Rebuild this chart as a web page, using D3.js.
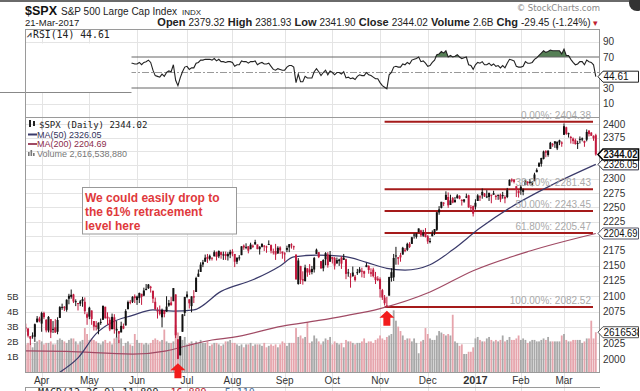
<!DOCTYPE html>
<html><head><meta charset="utf-8">
<script src="https://cdn.jsdelivr.net/npm/d3@7"></script>
<style>
body{margin:0;background:#fff}
svg{display:block}
text{font-family:"Liberation Sans",Arial,sans-serif}
.mono{font-family:"DejaVu Sans Mono",monospace}
</style>
</head><body>
<svg id="c" width="640" height="391"></svg>
<script>
// ---------------- DATA ----------------
const startDate = "2016-03-21", endDate = "2017-03-21";
const holidays = ["2016-03-25","2016-05-30","2016-07-04","2016-09-05","2016-11-24","2016-12-26","2017-01-02","2017-01-16","2017-02-20"];
const monthLabels = ["Apr","May","Jun","Jul","Aug","Sep","Oct","Nov","Dec","2017","Feb","Mar"];

const opens = [
2049,2049,2048,2032,2037,2035,2058,2064,
2056,2073,2062,2045,2063,2046,2050,2043,2065,2082,2083,2078,2096,2099,2103,2092,2089,2088,2092,2091,2071,
2067,2077,2060,2053,2047,2057,2062,2083,2067,2062,2047,2066,2045,2044,2042,2052,2053,2079,2091,2091,2100,
2094,2097,2104,2101,2110,2113,2115,2109,2091,2077,2077,2066,2077,2075,2085,2090,2092,2103,2031,2006,2043,2073,
2099,2095,2084,2100,2107,2132,2140,2156,2157,2165,2162,2163,2166,2173,2166,2173,2169,2170,2166,2169,
2174,2170,2157,2164,2168,2184,2182,2183,2178,2182,2186,2186,2178,2182,2184,2182,2186,2185,2174,2175,2171,2181,2174,
2171,2177,2181,2186,2183,2169,2120,2150,2128,2125,2146,2144,2145,2144,2170,2173,2158,2146,2161,2169,2157,
2165,2163,2154,2158,2164,2160,2161,2138,2131,2139,2132,2138,2140,2142,2137,2148,2150,2137,2144,2132,2129,
2128,2110,2098,2083,2101,2130,2131,2167,2162,2168,2169,2177,2177,2187,2187,2202,2199,2207,2210,2201,2205,
2200,2191,2200,2207,2211,2241,2249,2258,2263,2268,2254,2266,2259,2266,2270,2263,2260,2267,2271,2250,2252,
2251,2261,2268,2271,2274,2269,2268,2272,2272,2270,2270,2272,2270,2268,2268,2288,2299,2299,2287,2275,
2286,2277,2289,2295,2295,2290,2296,2312,2322,2327,2336,2350,2343,2354,2361,2368,2355,2366,2366,
2380,2394,2381,2376,2373,2370,2364,2372,2371,2369,2371,2388,2384,2378,2379.32];
const highs = [
2053,2056,2049,2036,2042,2056,2068,2067,
2075,2075,2063,2068,2063,2060,2063,2066,2084,2088,2084,2095,2104,2111,2104,2095,2089,2094,2099,2098,2074,
2083,2077,2060,2060,2058,2064,2085,2083,2074,2066,2072,2071,2060,2044,2059,2056,2079,2093,2094,2100,2103,
2101,2106,2104,2114,2120,2120,2117,2109,2098,2082,2085,2080,2077,2100,2094,2099,2113,2103,2031,2036,2071,2099,
2108,2095,2100,2110,2132,2144,2156,2160,2169,2170,2169,2164,2176,2174,2176,2174,2174,2174,2173,2177,
2178,2170,2164,2168,2183,2186,2188,2183,2189,2186,2194,2186,2183,2188,2185,2184,2193,2186,2179,2187,2183,2183,2174,
2173,2184,2186,2188,2184,2169,2163,2150,2141,2152,2146,2153,2150,2165,2179,2173,2158,2161,2173,2173,2175,
2165,2165,2164,2162,2166,2170,2162,2145,2138,2149,2135,2145,2148,2147,2142,2155,2151,2146,2147,2140,2133,
2131,2112,2102,2099,2132,2146,2170,2182,2165,2172,2182,2180,2189,2190,2199,2205,2205,2213,2211,2211,2214,
2202,2197,2210,2212,2242,2252,2259,2259,2278,2276,2272,2268,2268,2273,2271,2264,2264,2274,2272,2254,2253,
2264,2273,2271,2283,2275,2280,2275,2272,2279,2272,2272,2274,2277,2271,2284,2299,2301,2299,2287,2280,
2289,2283,2299,2296,2300,2296,2311,2319,2330,2338,2351,2352,2351,2367,2365,2368,2367,2371,2368,
2401,2395,2384,2378,2375,2373,2369,2377,2375,2369,2390,2388,2385,2379,2381.93];
const lows = [
2044,2043,2034,2022,2032,2027,2058,2058,
2043,2063,2042,2042,2033,2041,2041,2039,2065,2078,2076,2075,2087,2096,2089,2084,2077,2084,2083,2071,2054,
2063,2054,2045,2045,2039,2054,2062,2064,2054,2044,2047,2040,2034,2025,2042,2047,2053,2079,2087,2089,2089,
2086,2089,2086,2100,2110,2112,2106,2089,2078,2064,2069,2050,2066,2075,2083,2085,2092,2033,2000,2006,2043,2068,
2097,2080,2074,2089,2107,2132,2140,2148,2157,2155,2159,2159,2166,2159,2163,2162,2160,2160,2159,2163,
2166,2148,2153,2159,2168,2177,2178,2171,2178,2180,2186,2178,2169,2181,2175,2172,2186,2171,2169,2160,2170,2170,2162,
2157,2173,2173,2179,2177,2127,2119,2120,2119,2124,2132,2135,2136,2139,2170,2163,2145,2141,2151,2147,2157,
2154,2144,2154,2150,2145,2160,2128,2132,2114,2132,2124,2135,2138,2131,2130,2148,2137,2132,2131,2120,2125,
2098,2094,2085,2083,2101,2124,2125,2152,2152,2157,2169,2173,2175,2180,2187,2196,2196,2207,2199,2199,2198,
2187,2188,2200,2202,2209,2237,2248,2252,2263,2249,2254,2257,2258,2265,2264,2253,2258,2266,2249,2244,2234,
2246,2261,2261,2265,2268,2266,2261,2257,2272,2263,2263,2259,2265,2257,2266,2288,2294,2292,2268,2267,
2272,2271,2289,2288,2290,2287,2296,2312,2322,2322,2335,2339,2340,2354,2358,2356,2352,2361,2358,
2380,2380,2375,2364,2363,2362,2354,2364,2368,2358,2368,2377,2378,2369,2341.90];
const closes = [
2051.6,2049.8,2036.71,2035.94,2037.05,2055.01,2063.95,2059.74,
2072.78,2066.13,2045.17,2066.66,2041.91,2047.6,2041.99,2061.72,2082.42,2082.78,2080.73,2094.34,2100.8,2102.4,2091.48,2091.58,2087.79,2091.7,2095.15,2075.81,2065.3,
2081.43,2063.37,2051.12,2050.63,2057.14,2058.69,2084.39,2064.46,2064.11,2046.61,2066.66,2047.21,2047.63,2040.04,2052.32,2048.04,2076.06,2090.54,2090.1,2099.06,2096.95,
2099.33,2105.26,2099.13,2109.41,2112.13,2119.12,2115.48,2096.07,2079.06,2075.32,2071.5,2077.99,2071.22,2083.25,2088.9,2085.45,2113.32,2037.41,2000.54,2036.09,2070.77,2098.86,
2102.95,2088.55,2099.73,2097.9,2129.9,2137.16,2152.14,2152.43,2163.75,2161.74,2166.89,2163.78,2173.02,2165.17,2175.03,2168.48,2169.18,2166.58,2170.06,2173.6,
2170.84,2157.03,2163.79,2164.25,2182.87,2180.89,2181.74,2175.49,2185.79,2184.05,2190.15,2178.15,2182.22,2187.02,2183.87,2182.64,2186.9,2175.44,2172.47,2169.04,2180.38,2176.12,2170.95,
2170.86,2179.98,2186.48,2186.16,2181.3,2127.81,2159.04,2127.02,2125.77,2147.26,2139.16,2139.12,2139.76,2163.12,2177.18,2164.69,2146.1,2159.93,2171.37,2151.13,2168.27,
2161.2,2150.49,2159.73,2160.77,2153.74,2163.66,2136.73,2139.18,2132.55,2132.98,2126.5,2139.6,2144.29,2141.34,2141.16,2151.33,2143.16,2139.43,2133.04,2126.41,2126.15,
2111.72,2097.94,2088.66,2085.18,2131.52,2139.56,2163.26,2167.48,2164.45,2164.2,2180.39,2176.94,2187.12,2181.9,2198.18,2202.94,2204.72,2213.35,2201.72,2204.66,2198.81,
2191.08,2191.95,2204.71,2212.23,2241.35,2246.19,2259.53,2256.96,2271.72,2253.28,2262.03,2258.07,2262.53,2270.76,2265.18,2260.96,2263.79,2268.88,2249.92,2249.26,2238.83,
2257.83,2270.75,2269,2276.98,2268.9,2268.9,2275.32,2270.44,2274.64,2267.89,2271.89,2263.69,2271.31,2265.2,2280.07,2298.37,2296.68,2294.69,2280.9,2278.87,
2279.55,2280.85,2297.42,2292.56,2293.08,2294.67,2307.87,2316.1,2328.25,2337.58,2349.25,2347.22,2351.16,2365.38,2362.82,2363.81,2367.34,2369.75,2363.64,
2395.96,2381.92,2383.12,2375.31,2368.39,2362.98,2364.87,2372.6,2373.47,2365.45,2385.26,2381.38,2378.25,2373.47,2344.02];
// volume, billions of shares
const volumes = [
1.9,1.8,1.9,1.8,1.6,1.9,2.0,2.1,
2.0,1.8,1.9,1.9,2.0,1.8,1.8,2.1,2.2,2.1,2.0,1.9,2.1,2.2,2.2,2.0,1.8,2.0,2.1,2.9,2.5,
2.1,2.2,2.1,2.0,1.9,1.8,2.0,2.1,1.9,2.0,1.8,2.2,2.3,2.1,2.2,1.7,1.9,2.0,1.8,1.7,2.5,
2.1,1.9,1.9,1.8,1.9,1.8,1.9,2.1,2.2,2.1,2.0,2.1,2.8,2.0,1.9,1.9,2.0,3.1,2.6,2.3,2.1,2.3,
1.8,1.9,2.0,1.8,2.0,1.9,2.1,1.9,1.9,2.0,1.7,1.8,1.9,1.9,1.8,1.7,1.8,2.0,2.0,2.1,
1.9,1.9,1.8,1.7,1.8,1.6,1.8,1.8,1.9,1.7,1.8,1.8,1.8,1.7,1.9,1.6,1.7,1.8,1.7,1.8,1.6,1.8,2.0,
1.9,1.7,1.9,1.9,1.9,2.9,2.3,2.4,2.2,2.3,3.3,1.9,2.0,2.4,2.2,2.0,1.8,2.0,2.2,2.1,2.3,
1.8,2.0,1.9,1.8,1.9,1.6,2.1,2.0,2.0,1.9,1.8,1.9,1.9,2.0,2.2,1.9,2.0,2.0,1.9,2.1,2.2,
2.4,2.2,2.1,2.3,2.4,2.5,4.1,3.4,3.0,2.7,2.4,2.1,2.2,2.2,2.0,2.2,1.9,1.2,2.0,2.1,2.9,
2.5,2.2,2.1,2.1,2.4,2.7,2.6,2.5,2.4,2.5,2.4,3.8,2.0,1.9,1.7,1.8,1.15,1.15,1.3,1.3,1.6,
2.2,2.3,2.1,2.0,2.0,2.2,2.3,2.1,2.0,2.1,2.0,2.1,2.4,2.0,2.1,2.3,2.1,2.1,2.2,2.4,
2.1,2.2,2.1,1.9,2.0,2.1,2.1,2.0,2.0,2.1,2.2,2.1,2.3,2.0,2.0,2.0,2.0,2.0,2.4,
2.5,2.1,2.0,2.0,2.1,2.1,2.1,2.1,1.9,2.0,2.2,2.2,3.4,2.2,2.62];
const lastVolumeText = "2,616,538,880";
const rsi = [
62,61,57,57,57,62,65,63,
67,63,55,61,53,55,53,59,65,65,64,68,70,70,63,63,61,62,63,55,51,
57,50,46,46,49,50,60,52,52,45,53,46,46,44,49,48,57,62,62,62,61,
61,63,60,63,64,66,63,53,46,45,44,48,45,50,52,51,60,40,33,43,51,57,
58,54,56,56,62,63,66,66,67,67,67,66,68,65,67,64,64,63,64,64,
63,58,60,60,65,64,64,62,64,64,65,60,62,63,61,61,62,58,54,53,55,54,53,
53,57,59,59,57,37,48,38,38,45,43,43,43,51,55,51,46,50,53,47,52,
50,47,50,50,48,51,43,44,42,43,41,45,47,46,46,50,47,46,44,42,42,
37,33,31,29,47,50,57,58,57,57,61,60,63,61,66,67,68,70,64,65,62,
58,59,63,66,73,74,77,75,78,70,72,70,71,73,70,68,69,70,60,59,54,
60,63,62,64,60,60,62,59,61,58,59,56,59,56,62,67,66,65,58,57,
57,58,64,62,62,63,67,69,72,75,78,76,77,79,78,78,78,78,74,
80,72,72,67,63,60,61,64,64,60,66,64,63,60,44.61];

const ma50Dates = ["2016-04-13","2016-04-25","2016-05-05","2016-05-16","2016-05-27","2016-06-10","2016-06-23","2016-07-07","2016-07-25","2016-08-12","2016-08-30","2016-09-08","2016-09-22","2016-10-10","2016-10-24","2016-11-04","2016-11-16","2016-12-02","2016-12-16","2017-01-05","2017-01-26","2017-02-22","2017-03-21"];
const ma50Values = [1980,2002,2040,2058,2069,2078,2076,2078,2108,2127,2150,2165,2168,2166,2156,2146,2143,2152,2177,2214,2251,2290,2326.05];
const ma200Dates = ["2016-03-22","2016-04-18","2016-05-27","2016-06-20","2016-07-01","2016-07-19","2016-08-01","2016-08-31","2016-09-23","2016-10-10","2016-11-01","2016-12-02","2016-12-30","2017-02-07","2017-03-21"];
const ma200Values = [2013,2012,2008,2013,2021,2030,2034,2052,2061,2068,2080,2107,2142,2175,2204.69];

const fibPercents = [0, 38.2, 50, 61.8, 100];
const fibPrices = [2404.38, 2281.43, 2243.45, 2205.47, 2082.52];
const fibStartDate = "2016-11-03";
const arrowDates = ["2016-06-27","2016-11-04"];

const priceTicks = d3.range(2000, 2401, 25);
const volTicks = [1,2,3,4,5];
const rsiTicks = [90,70,50,30,10];
const noteLines = ["We could easily drop to","the 61% retracement","level here"];

// ---------------- SETUP ----------------
const svg = d3.select("#c");
const parse = d3.timeParse("%Y-%m-%d"), fmt = d3.timeFormat("%Y-%m-%d");
const days = [];
for (let d = parse(startDate); d <= parse(endDate); d = d3.timeDay.offset(d, 1)) {
  const wd = d.getDay(); const s = fmt(d);
  if (wd === 0 || wd === 6 || holidays.includes(s)) continue;
  days.push(s);
}
const N = Math.min(days.length, closes.length);
const D = d3.range(N).map(i => ({date: days[i], o: opens[i], h: highs[i], l: lows[i], c: closes[i], v: volumes[i], r: rsi[i], up: i === 0 ? true : closes[i] >= closes[i-1]}));

const L = 25, R = 600, rsiTop = 29, rsiBot = 117, mainTop = 117, mainBot = 373;
const x = d3.scalePoint().domain(days.slice(0, N)).range([23.5, 595.8]);
const yP = d3.scaleLog().domain([1978.7, 2413.1]).range([mainBot, mainTop]);
const yV = d3.scaleLinear().domain([0, 6]).range([371, 371 - 6 * 14.8]);
const yR = d3.scaleLinear().domain([0, 100]).range([111.25, 33.75]);

const defs = svg.append("defs");
defs.append("clipPath").attr("id", "cm").append("rect").attr("x", L).attr("y", mainTop).attr("width", R - L).attr("height", mainBot - mainTop);
defs.append("clipPath").attr("id", "cr").append("rect").attr("x", L).attr("y", rsiTop).attr("width", R - L).attr("height", rsiBot - rsiTop);

svg.append("rect").attr("width", 640).attr("height", 391).attr("fill", "#fff");
svg.append("rect").attr("x", 0).attr("y", 0).attr("width", 640).attr("height", 2).attr("fill", "#6a6a6a");
svg.append("circle").attr("cx", 637).attr("cy", 3).attr("r", 8).attr("fill", "#333");

// ---------------- HEADER ----------------
const h1 = svg.append("text").attr("x", 25).attr("y", 15);
h1.append("tspan").attr("font-weight", "bold").attr("font-size", 12.5).attr("fill", "#111").text("$SPX");
h1.append("tspan").attr("font-size", 10).attr("fill", "#222").attr("dx", 4).text("S&P 500 Large Cap Index");
h1.append("tspan").attr("font-size", 8).attr("fill", "#222").attr("dx", 5).text("INDX");
svg.append("text").attr("x", 25).attr("y", 26).attr("font-size", 9.5).attr("fill", "#222").text("21-Mar-2017");
svg.append("text").attr("x", 600).attr("y", 11).attr("text-anchor", "end").attr("font-size", 8.5)
  .attr("fill", "#888").style("font-family", "'DejaVu Sans',sans-serif").text("© StockCharts.com");
const h2 = svg.append("text").attr("x", 598).attr("y", 26).attr("text-anchor", "end").attr("fill", "#222");
const quote = [["Open","2379.32"],["High","2381.93"],["Low","2341.90"],["Close","2344.02"],["Volume","2.6B"],["Chg","-29.45 (-1.24%)"]];
quote.forEach(([k, v], i) => {
  h2.append("tspan").attr("font-weight", "bold").attr("font-size", 11).text((i ? " " : "") + k + " ");
  h2.append("tspan").attr("font-size", 10).text(v);
});
h2.append("tspan").attr("font-size", 9).attr("fill", "#c02030").text(" ▾");

// ---------------- GRID ----------------
const monthStarts = days.slice(0, N).filter((d, i) => i > 0 && d.slice(5, 7) !== days[i-1].slice(5, 7));
const grid = svg.append("g").attr("stroke", "#e4e4e4").attr("stroke-width", 1);
monthStarts.forEach(d => grid.append("line").attr("x1", Math.round(x(d)) + 0.5).attr("x2", Math.round(x(d)) + 0.5).attr("y1", rsiTop).attr("y2", 391));
priceTicks.forEach(p => grid.append("line").attr("x1", L).attr("x2", R).attr("y1", Math.round(yP(p)) + 0.5).attr("y2", Math.round(yP(p)) + 0.5));
[90, 10].forEach(v => grid.append("line").attr("x1", L).attr("x2", R).attr("y1", Math.round(yR(v)) + 0.5).attr("y2", Math.round(yR(v)) + 0.5));

// ---------------- RSI PANEL ----------------
const rg = svg.append("g").attr("clip-path", "url(#cr)");
rg.append("path").datum(D).attr("fill", "#557f55")
  .attr("d", d3.area().x(d => x(d.date)).y0(yR(70)).y1(d => yR(Math.max(70, d.r))));
[70, 30].forEach(v => rg.append("line").attr("x1", L).attr("x2", R).attr("y1", yR(v)).attr("y2", yR(v)).attr("stroke", "#666").attr("stroke-width", 1));
rg.append("line").attr("x1", L).attr("x2", R).attr("y1", yR(50)).attr("y2", yR(50)).attr("stroke", "#999").attr("stroke-dasharray", "7,2,2,2");
rg.append("path").datum(D).attr("fill", "none").attr("stroke", "#222").attr("stroke-width", 1.1)
  .attr("d", d3.line().x(d => x(d.date)).y(d => yR(d.r)));
svg.append("text").attr("class", "mono").attr("x", 33).attr("y", 37.5).attr("font-size", 9.8).attr("fill", "#222").text("RSI(14) " + rsi[N-1].toFixed(2));
svg.append("text").attr("x", 27).attr("y", 37).attr("font-size", 8).attr("fill", "#333").attr("font-weight", "bold").text("⩘");
// overlay box covering left part of RSI panel
svg.append("rect").attr("x", 0).attr("y", 43.5).attr("width", 131.5).attr("height", 48.5).attr("fill", "#fff");
svg.append("line").attr("x1", 0).attr("x2", 131.5).attr("y1", 92.5).attr("y2", 92.5).attr("stroke", "#888");

// ---------------- MAIN PANEL ----------------
const mg = svg.append("g").attr("clip-path", "url(#cm)");
// volume
mg.append("g").selectAll("rect").data(D).join("rect")
  .attr("x", d => x(d.date) - 0.9).attr("width", 1.8)
  .attr("y", d => yV(d.v)).attr("height", d => mainBot - yV(d.v))
  .attr("fill", d => d.up ? "#a8a8a8" : "#e6a4ac");
// fib lines
const fx0 = x(fibStartDate), fx1 = 593;
fibPrices.forEach((p, i) => {
  svg.append("text").attr("x", 591).attr("y", yP(p) - 3).attr("text-anchor", "end").attr("font-size", 10).attr("fill", "#aaa")
    .text(fibPercents[i].toFixed(2) + "%: " + p.toFixed(2));
  mg.append("line").attr("x1", fx0).attr("x2", fx1).attr("y1", yP(p)).attr("y2", yP(p)).attr("stroke", "#a51a1a").attr("stroke-width", 2);
});
// moving averages
const maLine = d3.line().curve(d3.curveMonotoneX).x(d => x(d[0])).y(d => yP(d[1]));
mg.append("path").datum(ma200Dates.map((d, i) => [d, ma200Values[i]])).attr("fill", "none").attr("stroke", "#a04a64").attr("stroke-width", 1.2).attr("d", maLine);
mg.append("path").datum(ma50Dates.map((d, i) => [d, ma50Values[i]])).attr("fill", "none").attr("stroke", "#3a3a6a").attr("stroke-width", 1.2).attr("d", maLine);
// candles
const cg = mg.append("g");
D.forEach(d => {
  const col = d.up ? "#111" : "#c21a3e";
  const xc = x(d.date);
  const hi = Math.max(d.h, d.o, d.c), lo = Math.min(d.l, d.o, d.c);
  cg.append("line").attr("x1", xc).attr("x2", xc).attr("y1", yP(hi)).attr("y2", yP(lo)).attr("stroke", col).attr("stroke-width", 1);
  const yt = yP(Math.max(d.o, d.c)), yb = yP(Math.min(d.o, d.c));
  cg.append("rect").attr("x", xc - 1).attr("width", 2).attr("y", yt).attr("height", Math.max(1, yb - yt)).attr("fill", col);
});
// frames
svg.append("rect").attr("x", L + 0.5).attr("y", rsiTop + 0.5).attr("width", R - L - 1).attr("height", mainBot - rsiTop - 1)
  .attr("fill", "none").attr("stroke", "#9a9a9a");
svg.append("line").attr("x1", L).attr("x2", R).attr("y1", mainTop + 0.5).attr("y2", mainTop + 0.5).attr("stroke", "#9a9a9a");

// legend
const lg = svg.append("g");
lg.append("text").attr("class", "mono").attr("x", 39).attr("y", 127.5).attr("font-size", 9).attr("fill", "#222").text("$SPX (Daily) " + closes[N-1].toFixed(2));
lg.append("rect").attr("x", 29).attr("y", 120).attr("width", 2).attr("height", 7).attr("fill", "#222");
lg.append("rect").attr("x", 33).attr("y", 121).attr("width", 2).attr("height", 5).attr("fill", "#222");
lg.append("line").attr("x1", 28).attr("x2", 37).attr("y1", 134.5).attr("y2", 134.5).attr("stroke", "#3a3a6a").attr("stroke-width", 2);
lg.append("text").attr("x", 37).attr("y", 137.5).attr("font-size", 9).attr("fill", "#33335a").text("MA(50) " + ma50Values[ma50Values.length-1].toFixed(2));
lg.append("line").attr("x1", 28).attr("x2", 37).attr("y1", 144).attr("y2", 144).attr("stroke", "#a04a64").attr("stroke-width", 2);
lg.append("text").attr("x", 37).attr("y", 147).attr("font-size", 9).attr("fill", "#8c2c4c").text("MA(200) " + ma200Values[ma200Values.length-1].toFixed(2));
[[28,4],[30.5,6],[33,3]].forEach(([bx, bh]) => lg.append("rect").attr("x", bx).attr("y", 156 - bh).attr("width", 1.6).attr("height", bh).attr("fill", "#777"));
lg.append("text").attr("x", 37).attr("y", 156.5).attr("font-size", 9).attr("fill", "#777").text("Volume " + lastVolumeText);

// annotation box
svg.append("rect").attr("x", 82.5).attr("y", 187.5).attr("width", 154).attr("height", 46.5).attr("fill", "#fff").attr("stroke", "#999");
noteLines.forEach((t, i) => svg.append("text").attr("x", 85).attr("y", 201.5 + i * 14).attr("font-size", 12).attr("font-weight", "bold").attr("fill", "#e0393c").text(t));

// arrows
arrowDates.forEach(ds => {
  const i = days.indexOf(ds); const cx = x(ds); const top = yP(lows[i]) + 4;
  svg.append("path").attr("fill", "#f21c1c")
    .attr("d", `M${cx},${top} L${cx + 7.5},${top + 7} L${cx + 3.5},${top + 7} L${cx + 3.5},${top + 15} L${cx - 3.5},${top + 15} L${cx - 3.5},${top + 7} L${cx - 7.5},${top + 7} Z`);
});

// tags (value markers on the right axis)
const tags = [
  {cy: yR(rsi[N-1]), txt: rsi[N-1].toFixed(2), stroke: "#222"},
  {cy: yP(ma200Values[ma200Values.length-1]), txt: ma200Values[ma200Values.length-1].toFixed(2), stroke: "#556"},
  {cy: yP(ma50Values[ma50Values.length-1]), txt: ma50Values[ma50Values.length-1].toFixed(2), stroke: "#334"},
  {cy: yP(closes[N-1]), txt: closes[N-1].toFixed(2), stroke: "#000", sw: 1.6, bold: true},
  {cy: yV(volumes[N-1]), txt: lastVolumeText.replace(/,/g, ""), stroke: "#555", clip: true}
];
const nearTag = y => tags.some(t => Math.abs(t.cy - y) < 7.5);

// right axis labels (hidden where a tag covers them)
rsiTicks.forEach(v => { if (!nearTag(yR(v))) svg.append("text").attr("x", 603).attr("y", yR(v)).attr("dy", "0.35em").attr("font-size", 10).attr("fill", "#333").text(v); });
priceTicks.forEach(p => { if (!nearTag(yP(p))) svg.append("text").attr("x", 603).attr("y", yP(p)).attr("dy", "0.35em").attr("font-size", 10).attr("fill", "#333").text(p); });
volTicks.forEach(v => svg.append("text").attr("x", 7).attr("y", yV(v)).attr("dy", "0.35em").attr("font-size", 9.5).attr("fill", "#333").text(v + "B"));

defs.append("clipPath").attr("id", "ct").append("rect").attr("x", 598).attr("y", 0).attr("width", 41).attr("height", 391);
tags.forEach(t => {
  const g = svg.append("g");
  const cy = t.cy;
  g.append("path").attr("d", `M598,${cy} L603,${cy - 5.5} L638.5,${cy - 5.5} L638.5,${cy + 5.5} L603,${cy + 5.5} Z`)
    .attr("fill", "#fff").attr("stroke", t.stroke).attr("stroke-width", t.sw || 1);
  const tx = g.append("text").attr("x", 603.5).attr("y", cy).attr("dy", "0.36em").attr("font-size", 10)
    .attr("font-weight", t.bold ? "bold" : "normal").attr("fill", "#111").text(t.txt);
  if (t.clip) { tx.attr("clip-path", "url(#ct)"); }
  else if (t.txt.length > 5) { tx.attr("textLength", 34).attr("lengthAdjust", "spacingAndGlyphs"); }
});

// x axis labels
monthStarts.forEach((d, i) => svg.append("text").attr("x", x(d)).attr("y", 384).attr("text-anchor", "middle")
  .attr("font-size", monthLabels[i] === "2017" ? 11 : 10).attr("font-weight", monthLabels[i] === "2017" ? "bold" : "normal")
  .attr("fill", "#333").text(monthLabels[i]));

// MACD panel stub
svg.append("line").attr("x1", L).attr("x2", R).attr("y1", 387.5).attr("y2", 387.5).attr("stroke", "#9a9a9a");
svg.append("line").attr("x1", L + 0.5).attr("x2", L + 0.5).attr("y1", 387).attr("y2", 391).attr("stroke", "#9a9a9a");
const mt = svg.append("text").attr("class", "mono").attr("x", 38).attr("y", 396).attr("font-size", 10);
mt.append("tspan").attr("fill", "#222").text("MACD(12,26,9) 11.809, ");
mt.append("tspan").attr("fill", "#c02030").text("16.889, ");
mt.append("tspan").attr("fill", "#4a6fa0").text("-5.110");
</script>
</body></html>
